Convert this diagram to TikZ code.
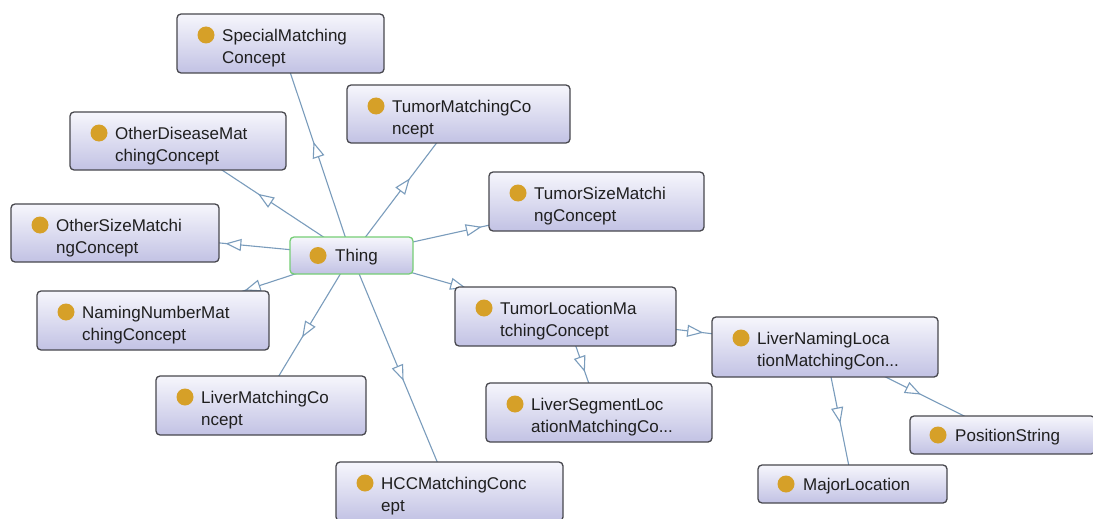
\documentclass[tikz,border=0pt]{standalone}
\usepackage{fontspec}
\setmainfont{Liberation Sans}
\usetikzlibrary{arrows.meta,decorations.markings,backgrounds}

\definecolor{boxtop}{RGB}{246,246,252}
\definecolor{boxbottom}{RGB}{194,194,228}
\definecolor{boxline}{RGB}{72,72,78}
\definecolor{rootline}{RGB}{118,206,118}
\definecolor{classdot}{RGB}{214,160,40}
\definecolor{edgeblue}{RGB}{122,156,188}

\tikzset{
  clsbox/.style={draw=boxline, line width=1.3pt, rounded corners=4pt,
    top color=boxtop, bottom color=boxbottom, inner sep=0pt, outer sep=0pt},
  rootbox/.style={draw=rootline},
  clsdot/.style={circle, fill=classdot, minimum size=17pt, inner sep=0pt},
  clslabel/.style={inner sep=0pt, align=left, font=\fontsize{17}{22}\selectfont,
    text=black!88},
  % open triangle centred halfway between the two class centres
  subclass/.style={draw=edgeblue, line width=1.1pt,
    postaction={decorate},
    decoration={markings, mark=at position 0.5 with
      {\arrow[xshift=8pt]{Triangle[open, length=16pt, width=12pt, fill=white, line width=1.1pt]}}}},
}

% box: [extra style]{name}{left}{top}{right}{bottom}
\newcommand\classbox[6][]{%
  \node[clsbox, #1, minimum width={(#5-#3)*1pt}, minimum height={(#6-#4)*1pt}]
    (#2) at ({(#3+#5)/2},{(#4+#6)/2}) {};}
% one-line caption with its dot
\newcommand\onelabel[2]{%
  \node[clsdot] (#1-dot) at ([xshift=28pt]#1.west) {};
  \node[clslabel, anchor=north west] (#1-txt) at ([xshift=45pt, yshift=6.4pt]#1.west) {#2};}
% two-line caption with its dot
\newcommand\twolabel[2]{%
  \node[clsdot] (#1-dot) at ([xshift=29pt, yshift=-21pt]#1.north west) {};
  \node[clslabel, anchor=north west] (#1-txt) at ([xshift=45pt, yshift=-15pt]#1.north west) {#2};}

\begin{document}
\begin{tikzpicture}[x=1pt, y=-1pt]
  \useasboundingbox (0,0) rectangle (1093,519);
  \clip (0,0) rectangle (1093,519);

  % classes
  \classbox[rootbox]{thing}{290}{237}{413}{274}
  \onelabel{thing}{Thing}

  \classbox{special}{177}{14}{384}{73}
  \twolabel{special}{SpecialMatching\\Concept}

  \classbox{tumor}{347}{85}{570}{143}
  \twolabel{tumor}{TumorMatchingCo\\ncept}

  \classbox{otherdisease}{70}{112}{286}{170}
  \twolabel{otherdisease}{OtherDiseaseMat\\chingConcept}

  \classbox{tumorsize}{489}{172}{704}{231}
  \twolabel{tumorsize}{TumorSizeMatchi\\ngConcept}

  \classbox{othersize}{11}{204}{219}{262}
  \twolabel{othersize}{OtherSizeMatchi\\ngConcept}

  \classbox{namingnumber}{37}{291}{269}{350}
  \twolabel{namingnumber}{NamingNumberMat\\chingConcept}

  \classbox{tumorloc}{455}{287}{676}{346}
  \twolabel{tumorloc}{TumorLocationMa\\tchingConcept}

  \classbox{livernaming}{712}{317}{938}{377}
  \twolabel{livernaming}{LiverNamingLoca\\tionMatchingCon...}

  \classbox{liver}{156}{376}{366}{435}
  \twolabel{liver}{LiverMatchingCo\\ncept}

  \classbox{liverseg}{486}{383}{712}{442}
  \twolabel{liverseg}{LiverSegmentLoc\\ationMatchingCo...}

  \classbox{position}{910}{416}{1095}{454}
  \onelabel{position}{PositionString}

  \classbox{hcc}{336}{462}{563}{521}
  \twolabel{hcc}{HCCMatchingConc\\ept}

  \classbox{major}{758}{465}{947}{503}
  \onelabel{major}{MajorLocation}

  % white page and subclass links, drawn beneath the boxes
  \begin{scope}[on background layer]
    \fill[white] (0,0) rectangle (1093,519);
    \foreach \child in {special,tumor,otherdisease,tumorsize,othersize,
                        namingnumber,tumorloc,liver,hcc}
      \draw[subclass] (thing.center) -- (\child.center);
    \draw[subclass] (tumorloc.center) -- (livernaming.center);
    \draw[subclass] (tumorloc.center) -- (liverseg.center);
    \draw[subclass] (livernaming.center) -- (position.center);
    \draw[subclass] (livernaming.center) -- (major.center);
  \end{scope}
\end{tikzpicture}
\end{document}
